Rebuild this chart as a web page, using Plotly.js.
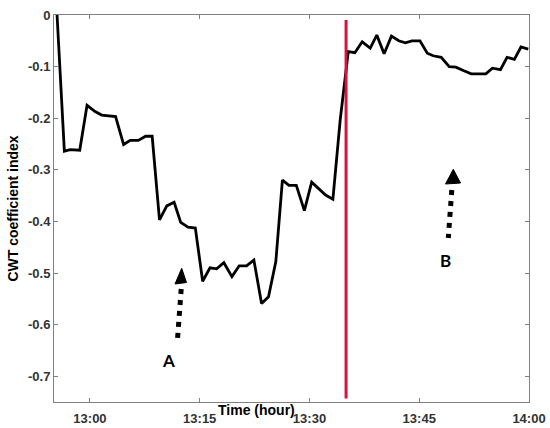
<!DOCTYPE html>
<html>
<head>
<meta charset="utf-8">
<script src="https://cdn.plot.ly/plotly-3.0.1.min.js"></script>
<style>
  html, body { margin: 0; padding: 0; background: #fff; }
  #chart { width: 550px; height: 428px; }
</style>
</head>
<body>
<div id="chart"></div>
<script>
// ---------- data ----------
const dayPrefix = "2024-01-01 ";
const timeStamps = [
  "12:55:30","12:56:30","12:57:18","12:58:36","12:59:36","13:00:42","13:01:36","13:02:36",
  "13:03:30","13:04:36","13:05:30","13:06:36","13:07:36","13:08:30","13:09:30","13:10:30",
  "13:11:30","13:12:24","13:13:24","13:14:24","13:15:24","13:16:24","13:17:18","13:18:18",
  "13:19:24","13:20:24","13:21:24","13:22:24","13:23:27","13:24:24","13:25:24","13:26:18",
  "13:27:12","13:28:12","13:29:18","13:30:18","13:31:12","13:32:12","13:33:12","13:34:12",
  "13:35:18","13:36:12","13:37:12","13:38:18","13:39:12","13:40:12","13:41:12","13:42:12",
  "13:43:06","13:44:00","13:45:06","13:46:06","13:46:54","13:48:00","13:49:06","13:50:00",
  "13:51:06","13:52:06","13:53:06","13:54:06","13:55:00","13:56:06","13:57:00","13:58:00",
  "13:58:54","13:59:54"
];
const cwtIndex = [
  0.000,-0.264,-0.261,-0.262,-0.175,-0.187,-0.194,-0.196,
  -0.197,-0.251,-0.243,-0.243,-0.235,-0.235,-0.397,-0.370,
  -0.363,-0.402,-0.411,-0.413,-0.516,-0.490,-0.492,-0.480,
  -0.507,-0.486,-0.486,-0.475,-0.559,-0.546,-0.478,-0.320,
  -0.330,-0.330,-0.379,-0.324,-0.336,-0.349,-0.357,-0.203,
  -0.071,-0.073,-0.052,-0.064,-0.039,-0.075,-0.041,-0.050,
  -0.054,-0.050,-0.050,-0.074,-0.079,-0.082,-0.100,-0.101,
  -0.108,-0.114,-0.114,-0.114,-0.103,-0.106,-0.082,-0.086,
  -0.062,-0.066
];
const xTickTimes = ["13:00:00","13:15:00","13:30:00","13:45:00","14:00:00"];
const xTickLabels = ["13:00","13:15","13:30","13:45","14:00"];
const yTickValues = [0,-0.1,-0.2,-0.3,-0.4,-0.5,-0.6,-0.7];
const yTickLabels = ["0","-0.1","-0.2","-0.3","-0.4","-0.5","-0.6","-0.7"];
const xRange = ["12:55:05","14:00:00"];
const yRange = [-0.75, 0];
const eventTime = "13:35:00";
const eventSpan = [-0.743, -0.0097];
const markLabels = ["A","B"];

// ---------- layout constants ----------
const M = {l: 54, r: 21, t: 15, b: 26};
const W = 550 - M.l - M.r, H = 428 - M.t - M.b;
const PB = 428 - M.b;
const px = X => (X - M.l) / W;
const py = Y => (PB - Y) / H;

const tickFont = {family: "Liberation Sans, Arial, sans-serif", size: 13, color: "#333333", weight: "bold"};
const titleFont = {family: "Liberation Sans, Arial, sans-serif", size: 14, color: "#000000", weight: "bold"};
const labelFont = {family: "Lato, Open Sans, sans-serif", size: 17, color: "#000000", weight: "bold"};

const trace = {
  x: timeStamps.map(t => dayPrefix + t),
  y: cwtIndex,
  type: "scatter",
  mode: "lines",
  line: {color: "#000000", width: 2.8},
  hoverinfo: "skip"
};

function arrowShapes(tip, baseL, baseR, shaftTop, shaftBot) {
  return [
    {type: "line", xref: "paper", yref: "paper",
     x0: px(shaftTop[0]), y0: py(shaftTop[1]), x1: px(shaftBot[0]), y1: py(shaftBot[1]),
     line: {color: "#000000", width: 5, dash: "5px,6px"}},
    {type: "path", xref: "paper", yref: "paper",
     path: `M ${px(tip[0])} ${py(tip[1])} L ${px(baseL[0])} ${py(baseL[1])} L ${px(baseR[0])} ${py(baseR[1])} Z`,
     fillcolor: "#000000", line: {color: "#000000", width: 1}}
  ];
}

const shapes = [
  {type: "line", xref: "x", yref: "y",
   x0: dayPrefix + eventTime, x1: dayPrefix + eventTime, y0: eventSpan[0], y1: eventSpan[1],
   line: {color: "rgb(215,20,60)", width: 3}},
  ...arrowShapes([181.7,268.3],[175,284],[186.5,282.5],[181.2,289],[177.6,338]),
  ...arrowShapes([453.3,169.3],[445.5,184],[460.5,183],[451.8,190],[448.3,238])
];

const layout = {
  width: 550, height: 428,
  margin: M,
  paper_bgcolor: "#ffffff",
  plot_bgcolor: "#ffffff",
  showlegend: false,
  xaxis: {
    type: "date",
    range: xRange.map(t => dayPrefix + t),
    tickvals: xTickTimes.map(t => dayPrefix + t),
    ticktext: xTickLabels,
    tickfont: tickFont,
    ticklabelstandoff: 4,
    ticks: "inside", ticklen: 4, tickcolor: "#808080", tickwidth: 1,
    showline: true, linecolor: "#808080", linewidth: 1, mirror: "ticks",
    showgrid: false, zeroline: false
  },
  yaxis: {
    range: yRange,
    tickvals: yTickValues,
    ticktext: yTickLabels,
    tickfont: tickFont,
    ticks: "inside", ticklen: 4, tickcolor: "#808080", tickwidth: 1,
    showline: true, linecolor: "#808080", linewidth: 1, mirror: "ticks",
    showgrid: false, zeroline: false,
    title: {text: "CWT coefficient index", font: titleFont, standoff: 6}
  },
  shapes: shapes,
  annotations: [
    {text: "Time (hour)", xref: "paper", yref: "paper", x: px(256), y: py(410),
     xanchor: "center", yanchor: "middle", showarrow: false, font: titleFont},
    {text: markLabels[0], xref: "paper", yref: "paper", x: px(168.3), y: py(360),
     xanchor: "center", yanchor: "middle", showarrow: false, font: labelFont},
    {text: markLabels[1], xref: "paper", yref: "paper", x: px(445), y: py(260.7),
     xanchor: "center", yanchor: "middle", showarrow: false, font: labelFont}
  ]
};

Plotly.newPlot("chart", [trace], layout, {staticPlot: true, displayModeBar: false});
</script>
</body>
</html>
